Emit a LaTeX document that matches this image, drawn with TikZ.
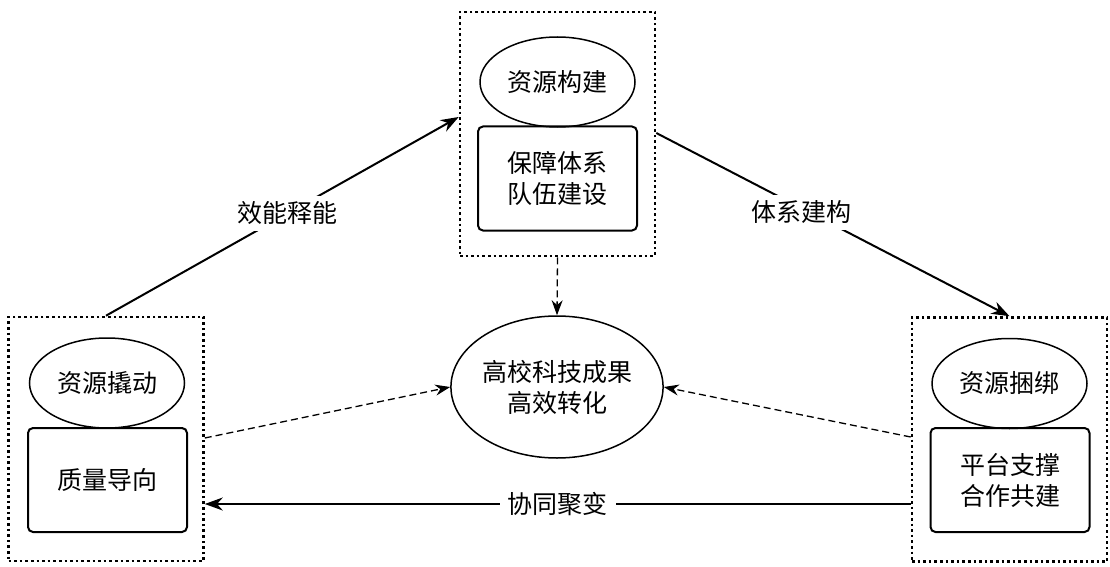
\documentclass[tikz,border=0pt]{standalone}
\usepackage{fontspec}
\setmainfont{Noto Sans CJK SC}
\usetikzlibrary{arrows.meta,calc,shapes.geometric}
\begin{document}
\begin{tikzpicture}[x=1pt,y=-1pt,
  every node/.style={font=\fontsize{25}{31}\selectfont, inner sep=0pt},
  groupbox/.style={draw, line width=2.6pt, dash pattern=on 2.6pt off 3pt, minimum width=195pt, minimum height=244pt},
  oval/.style={draw, ellipse, line width=1.5pt, minimum width=155pt, minimum height=90pt},
  card/.style={draw, line width=2pt, rounded corners=5pt, minimum width=159pt, minimum height=104pt, align=center},
  flow/.style={line width=2pt, -{Stealth[length=18pt,width=13pt]}},
  weak/.style={line width=1.3pt, dash pattern=on 7pt off 4pt, -{Stealth[length=15pt,width=11pt]}},
  lbl/.style={fill=white, inner sep=6pt}
]
\useasboundingbox (0,0) rectangle (1110,567);
% group boxes
\node[groupbox] (tb) at (557.5,134) {};
\node[groupbox] (lb) at (106,439) {};
\node[groupbox] (rb) at (1009.5,439.5) {};
% inner shapes
\node[oval] (te) at (557.5,82) {资源构建};
\node[card] (tr) at (557.5,178.5) {保障体系\\队伍建设};
\node[oval] (le) at (107,383) {资源撬动};
\node[card] (lr) at (107.5,480) {质量导向};
\node[oval] (re) at (1009.5,383.5) {资源捆绑};
\node[card] (rr) at (1010,480) {平台支撑\\合作共建};
% centre
\node[draw, ellipse, line width=1.5pt, minimum width=210pt, minimum height=142pt, align=center] (ce) at (557,387) {高校科技成果\\高效转化};
% connectors
\draw[flow] (lb.north) -- (tb.west |- 0,117) node[pos=0.515, lbl] (l1) {效能释能};
\draw[flow] (tb.east |- 0,133) -- (rb.north) node[pos=0.41, lbl, yshift=-4pt] (l2) {体系建构};
\draw[weak] (tb.south) -- (ce.north);
\draw[weak] (lb.east |- 0,438) -- (ce.west);
\draw[weak] (rb.west |- 0,437) -- (ce.east);
\draw[flow] (rb.west |- 0,504) -- (lb.east |- 0,504) node[midway, lbl, inner sep=8pt] (l3) {协同聚变};
\end{tikzpicture}
\end{document}
